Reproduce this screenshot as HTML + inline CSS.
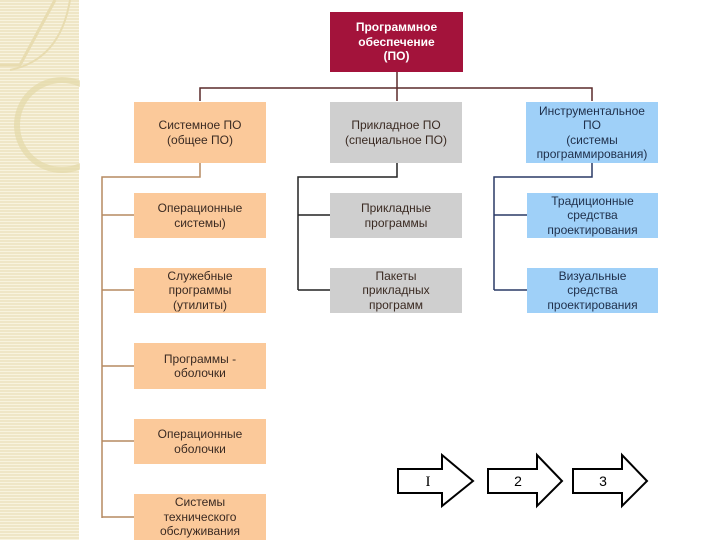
<!DOCTYPE html>
<html><head><meta charset="utf-8"><style>
body{margin:0;width:720px;height:540px;background:#fff;position:relative;overflow:hidden;font-family:"Liberation Sans",sans-serif}
.strip{position:absolute;left:0;top:0;width:79px;height:540px;background:repeating-linear-gradient(#efe6c6 0 2px,#f8f3de 2px 3px)}
.b{position:absolute;display:flex;align-items:center;justify-content:center;text-align:center;font-size:12px;line-height:14.5px;color:#3a2a22}
.o{background:#fbc99a}.g{background:#cfcfcf}.bl{background:#9fd0f8;color:#1f2f4a}
</style></head><body>
<div class="strip"></div>
<svg style="position:absolute;left:0;top:0" width="80" height="540">
<circle cx="62" cy="125" r="45" fill="none" stroke="#e4d9a8" stroke-width="6" opacity=".7"/>
<path d="M0 65 L20 65 L55 0" fill="none" stroke="#e8dcb0" stroke-width="3"/>
<path d="M10 70 Q60 60 70 0" fill="none" stroke="#e8dcb0" stroke-width="2"/>
</svg>
<svg style="position:absolute;left:0;top:0" width="720" height="540">
<g fill="none" stroke-width="1.5">
<path d="M397 72V101M200 101V88H592V101" stroke="#5a2a2a"/>
<path d="M200 163V177H102V518M102 215H134M102 290H134M102 366H134M102 441H134M102 517H134" stroke="#b58a60"/>
<path d="M397 163V177H298V290M298 215H331M298 290H331" stroke="#222"/>
<path d="M592 163V177H494V290M494 215H527M494 290H527" stroke="#2a3a66"/>
<path d="M398 469H442V455L473 481L442 506V493H398Z" stroke="#000" stroke-width="2" fill="#fff"/>
<path d="M488 469H537V455L562 481L537 506V493H488Z" stroke="#000" stroke-width="2" fill="#fff"/>
<path d="M573 469H622V455L647 481L622 506V493H573Z" stroke="#000" stroke-width="2" fill="#fff"/>
</g>
<g font-family="Liberation Serif" font-size="15" text-anchor="middle">
<text x="428" y="486">I</text></g>
<g font-family="Liberation Sans" font-size="14" text-anchor="middle">
<text x="518" y="486">2</text><text x="603" y="486">3</text></g>
</svg>
<div class="b" style="left:330px;top:12px;width:133px;height:60px;background:#a3133b;color:#fff;font-weight:bold">Программное<br>обеспечение<br>(ПО)</div>
<div class="b o" style="left:134px;top:102px;width:132px;height:61px">Системное ПО<br>(общее ПО)</div>
<div class="b g" style="left:330px;top:102px;width:132px;height:61px">Прикладное ПО<br>(специальное ПО)</div>
<div class="b bl" style="left:526px;top:102px;width:132px;height:61px">Инструментальное<br>ПО<br>(системы<br>программирования)</div>
<div class="b o" style="left:134px;top:193px;width:132px;height:45px">Операционные<br>системы)</div>
<div class="b o" style="left:134px;top:268px;width:132px;height:45px">Служебные<br>программы<br>(утилиты)</div>
<div class="b o" style="left:134px;top:343px;width:132px;height:46px">Программы -<br>оболочки</div>
<div class="b o" style="left:134px;top:419px;width:132px;height:45px">Операционные<br>оболочки</div>
<div class="b o" style="left:134px;top:494px;width:132px;height:46px">Системы<br>технического<br>обслуживания</div>
<div class="b g" style="left:330px;top:193px;width:132px;height:45px">Прикладные<br>программы</div>
<div class="b g" style="left:330px;top:268px;width:132px;height:45px">Пакеты<br>прикладных<br>программ</div>
<div class="b bl" style="left:527px;top:193px;width:131px;height:45px">Традиционные<br>средства<br>проектирования</div>
<div class="b bl" style="left:527px;top:268px;width:131px;height:45px">Визуальные<br>средства<br>проектирования</div>
</body></html>
